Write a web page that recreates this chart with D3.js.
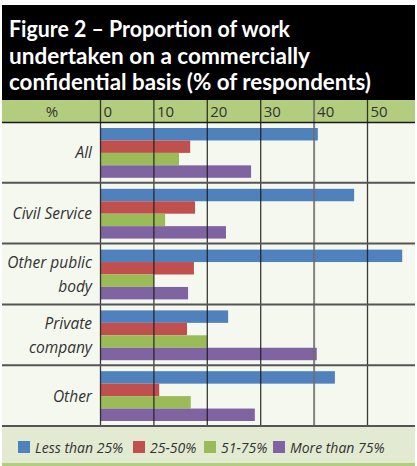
<!DOCTYPE html>
<html>
<head>
<meta charset="utf-8">
<script src="https://cdn.jsdelivr.net/npm/d3@7"></script>
<style>
  body { margin: 0; background: #fff; }
  svg { display: block; }
  text { font-family: "Open Sans", "Noto Sans", sans-serif; }
</style>
</head>
<body>
<div id="chart"></div>
<script>
// data
let categories = ["All", "Civil Service", "Other public body", "Private company", "Other"];
let categoryLines = [["All"], ["Civil Service"], ["Other public", "body"], ["Private", "company"], ["Other"]];
let series = ["Less than 25%", "25-50%", "51-75%", "More than 75%"];
let lessThan25 = [40.7, 47.5, 56.5, 23.9, 43.9];
let from25to50 = [16.8, 17.7, 17.5, 16.2, 11];
let from51to75 = [14.7, 12.1, 10, 20, 16.9];
let moreThan75 = [28.2, 23.5, 16.4, 40.5, 28.9];
let ticks = [0, 10, 20, 30, 40, 50];
let titleLines = ["Figure 2 \u2013 Proportion of work", "undertaken on  a commercially", "confidential basis (% of respondents)"];

let colors = ["#4f81bd", "#c0504d", "#9bbb59", "#8064a2"];
let values = [lessThan25, from25to50, from51to75, moreThan75];

let width = 417, height = 466;
let left = 2, right = 415;

let svg = d3.select("#chart").append("svg")
  .attr("width", width)
  .attr("height", height);

// title box
svg.append("rect")
  .attr("x", left).attr("y", 5)
  .attr("width", right - left).attr("height", 95)
  .attr("fill", "#000");

let titleWidths = [281, 301, 362];
titleLines.forEach((t, i) => {
  svg.append("text")
    .attr("x", 9)
    .attr("y", 37 + i * 26.5)
    .attr("fill", "#fff")
    .style("font-family", "Lato, 'Open Sans', sans-serif")
    .style("font-size", "22px")
    .style("font-weight", "bold")
    .attr("textLength", titleWidths[i])
    .attr("lengthAdjust", "spacingAndGlyphs")
    .text(t);
});

let x = d3.scaleLinear().domain([0, 50]).range([100.5, 367.5]);
let y = d3.scaleBand().domain(categories).range([122, 426]);
let yInner = d3.scaleBand().domain(series).range([6, y.bandwidth() - 5]);

// header band
svg.append("rect")
  .attr("x", left).attr("y", 100)
  .attr("width", right - left).attr("height", 22)
  .attr("fill", "#b3cd7e");

svg.append("text")
  .attr("x", 52).attr("y", 116.5)
  .attr("text-anchor", "middle")
  .attr("fill", "#333")
  .style("font-size", "15px")
  .text("%");

svg.selectAll(".tickLabel")
  .data(ticks)
  .enter().append("text")
  .attr("class", "tickLabel")
  .attr("x", d => x(d) + 3)
  .attr("y", 116.5)
  .attr("fill", "#333")
  .style("font-size", "15px")
  .text(d => d);

// plot background
svg.append("rect")
  .attr("x", left).attr("y", 122)
  .attr("width", right - left).attr("height", 304)
  .attr("fill", "#f5f8ef");

// bars
let rows = svg.selectAll(".row")
  .data(categories)
  .enter().append("g")
  .attr("class", "row")
  .attr("transform", d => "translate(0," + y(d) + ")");

rows.each(function(cat, ci) {
  d3.select(this).selectAll("rect")
    .data(series)
    .enter().append("rect")
    .attr("x", x(0))
    .attr("y", s => yInner(s))
    .attr("width", (s, si) => x(values[si][ci]) - x(0))
    .attr("height", yInner.bandwidth())
    .attr("fill", (s, si) => colors[si]);
});

// category labels
rows.each(function(cat, ci) {
  let lines = categoryLines[ci];
  let mid = y.bandwidth() / 2;
  let t = d3.select(this).append("text")
    .attr("text-anchor", "end")
    .attr("fill", "#333")
    .style("font-size", "15.5px")
    .style("font-style", "italic");
  lines.forEach((l, li) => {
    t.append("tspan")
      .attr("x", 92)
      .attr("y", lines.length == 1 ? mid + 6 : mid - 6 + li * 24)
      .text(l);
  });
});

// grid lines over bars
svg.selectAll(".grid")
  .data(ticks)
  .enter().append("line")
  .attr("class", "grid")
  .attr("x1", d => x(d)).attr("x2", d => x(d))
  .attr("y1", 100).attr("y2", 426)
  .attr("stroke", d => d == 40 ? "#6e6e6e" : "#1a1a1a")
  .attr("stroke-width", d => d == 40 ? 2 : 1.3)
  .attr("stroke-opacity", 0.85);

// header bottom and row separators
svg.append("line")
  .attr("x1", left).attr("x2", right)
  .attr("y1", 122.5).attr("y2", 122.5)
  .attr("stroke", "#1a1a1a").attr("stroke-width", 1.3);

svg.selectAll(".sep")
  .data(categories)
  .enter().append("line")
  .attr("class", "sep")
  .attr("x1", left).attr("x2", right)
  .attr("y1", d => y(d) + y.bandwidth())
  .attr("y2", d => y(d) + y.bandwidth())
  .attr("stroke", "#555").attr("stroke-width", 2);

// legend
svg.append("rect")
  .attr("x", left).attr("y", 427)
  .attr("width", right - left).attr("height", 36)
  .attr("fill", "#e2ebd1");
svg.append("rect")
  .attr("x", left).attr("y", 463)
  .attr("width", right - left).attr("height", 3)
  .attr("fill", "#b3cd7e");

let legendX = [18, 133, 204, 273];
let legend = svg.selectAll(".legend")
  .data(series)
  .enter().append("g")
  .attr("class", "legend")
  .attr("transform", (d, i) => "translate(" + legendX[i] + ",441)");

legend.append("rect")
  .attr("width", 12).attr("height", 12)
  .attr("fill", (d, i) => colors[i]);

legend.append("text")
  .attr("x", 17).attr("y", 11.5)
  .attr("fill", "#333")
  .style("font-size", "14px")
  .style("font-style", "italic")
  .text(d => d);
</script>
</body>
</html>
